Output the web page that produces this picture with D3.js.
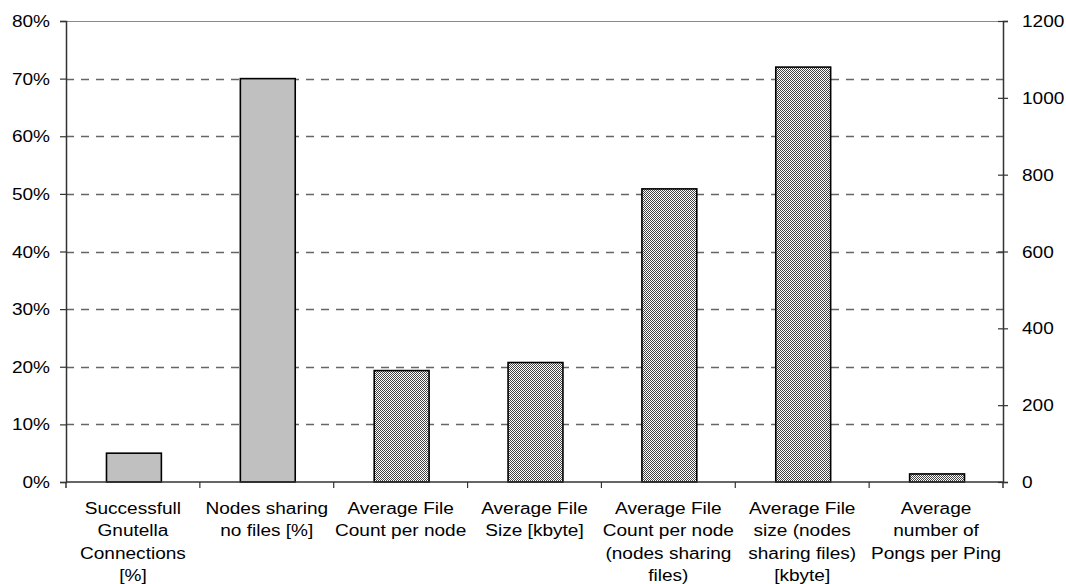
<!DOCTYPE html>
<html>
<head>
<meta charset="utf-8">
<script src="https://cdn.jsdelivr.net/npm/d3@7/dist/d3.min.js"></script>
<style>
  html, body { margin: 0; padding: 0; background: #fff; }
  svg { display: block; }
  text { font-family: "Liberation Sans", Arial, sans-serif; font-size: 16px; fill: #000; }
</style>
</head>
<body>
<svg id="chart" width="1066" height="584"></svg>
<script>
// Category labels, one array of lines per category
const categories = [
  ["Successfull", "Gnutella", "Connections", "[%]"],
  ["Nodes sharing", "no files [%]"],
  ["Average File", "Count per node"],
  ["Average File", "Size [kbyte]"],
  ["Average File", "Count per node", "(nodes sharing", "files)"],
  ["Average File", "size (nodes", "sharing files)", "[kbyte]"],
  ["Average", "number of", "Pongs per Ping"]
];
// Percentage measures (left axis)
const percentValues = [5, 70, null, null, null, null, null];
// Count / size measures (right axis)
const countValues = [null, null, 290, 311, 763, 1080, 21];

const leftTicks = [0, 10, 20, 30, 40, 50, 60, 70, 80];
const rightTicks = [0, 200, 400, 600, 800, 1000, 1200];

const svg = d3.select("#chart");
const x0 = 66, x1 = 1003, yTop = 21, yBot = 482;
const XS = 1.19; // horizontal stretch of the lettering

const x = d3.scaleBand().domain(d3.range(categories.length)).range([x0, x1]).padding(0);
const yL = d3.scaleLinear().domain([0, 80]).range([yBot, yTop]);
const yR = d3.scaleLinear().domain([0, 1200]).range([yBot, yTop]);

// Checker fill for the count bars
const defs = svg.append("defs");
const pat = defs.append("pattern").attr("id", "checker")
  .attr("width", 2).attr("height", 2).attr("patternUnits", "userSpaceOnUse");
pat.append("rect").attr("width", 2).attr("height", 2).attr("fill", "#ffffff");
pat.append("rect").attr("x", 0).attr("y", 0).attr("width", 1).attr("height", 1).attr("fill", "#444");
pat.append("rect").attr("x", 1).attr("y", 1).attr("width", 1).attr("height", 1).attr("fill", "#444");

// Dashed gridlines on the percentage ticks
svg.append("g").selectAll("line")
  .data(leftTicks.filter(d => d > 0 && d < 80))
  .join("line")
  .attr("x1", x0).attr("x2", x1)
  .attr("y1", d => Math.round(yL(d)) + 0.5).attr("y2", d => Math.round(yL(d)) + 0.5)
  .attr("stroke", "#666").attr("stroke-width", 1.3)
  .attr("stroke-dasharray", "8,7");

// Top border
svg.append("line")
  .attr("x1", x0).attr("x2", x1).attr("y1", yTop + 0.5).attr("y2", yTop + 0.5)
  .attr("stroke", "#8a8a8a").attr("stroke-width", 1.2);

const barW = x.bandwidth() * 0.41;
const bars = svg.append("g");

// Percentage bars
bars.selectAll("rect.pct")
  .data(percentValues.map((v, i) => ({ v, i })).filter(d => d.v != null))
  .join("rect").attr("class", "pct")
  .attr("x", d => x(d.i) + (x.bandwidth() - barW) / 2 + 1)
  .attr("width", barW)
  .attr("y", d => yL(d.v))
  .attr("height", d => yBot - yL(d.v))
  .attr("fill", "#c0c0c0").attr("stroke", "#000").attr("stroke-width", 1.6);

// Count bars
bars.selectAll("rect.cnt")
  .data(countValues.map((v, i) => ({ v, i })).filter(d => d.v != null))
  .join("rect").attr("class", "cnt")
  .attr("x", d => x(d.i) + (x.bandwidth() - barW) / 2 + 1)
  .attr("width", barW)
  .attr("y", d => yR(d.v))
  .attr("height", d => yBot - yR(d.v))
  .attr("fill", "url(#checker)").attr("stroke", "#000").attr("stroke-width", 1.6);

// Left axis
const gL = svg.append("g").attr("transform", `translate(${x0},0)`)
  .call(d3.axisLeft(yL).tickValues(leftTicks).tickSizeOuter(0).tickSize(6).tickFormat(() => ""));
gL.select(".domain").attr("stroke", "#333").attr("stroke-width", 1.5);
gL.selectAll(".tick line").attr("stroke", "#333").attr("stroke-width", 1.2);
gL.selectAll(".tick").append("g")
  .attr("transform", "translate(-16,5.5) scale(" + XS + ",1)")
  .append("text").attr("text-anchor", "end").attr("x", 0).attr("y", 0)
  .text(d => d + "%");

// Right axis with ticks crossing the line
const gR = svg.append("g").attr("transform", `translate(${x1},0)`)
  .call(d3.axisRight(yR).tickValues(rightTicks).tickSizeOuter(0).tickSize(5).tickFormat(() => ""));
gR.select(".domain").attr("stroke", "#333").attr("stroke-width", 1.5);
gR.selectAll(".tick line").attr("x1", -5).attr("stroke", "#333").attr("stroke-width", 1.2);
gR.selectAll(".tick").append("g")
  .attr("transform", "translate(19,5.5) scale(" + XS + ",1)")
  .append("text").attr("text-anchor", "start").attr("x", 0).attr("y", 0)
  .text(d => d);

// Axis extensions below the baseline
svg.append("line").attr("x1", x0).attr("x2", x0).attr("y1", yBot).attr("y2", yBot + 6)
  .attr("stroke", "#333").attr("stroke-width", 1.5);
svg.append("line").attr("x1", x1).attr("x2", x1).attr("y1", yBot).attr("y2", yBot + 6)
  .attr("stroke", "#333").attr("stroke-width", 1.5);

// Bottom axis with ticks at category boundaries
const gB = svg.append("g");
gB.append("line").attr("x1", x0).attr("x2", x1).attr("y1", yBot).attr("y2", yBot)
  .attr("stroke", "#333").attr("stroke-width", 1.5);
gB.selectAll("line.sep")
  .data(d3.range(1, categories.length))
  .join("line").attr("class", "sep")
  .attr("x1", d => x(d)).attr("x2", d => x(d))
  .attr("y1", yBot).attr("y2", yBot + 6)
  .attr("stroke", "#333").attr("stroke-width", 1.2);

// Category labels
const labels = svg.append("g").selectAll("g")
  .data(categories)
  .join("g")
  .attr("transform", (d, i) => `translate(${x(i) + x.bandwidth() / 2},514) scale(${XS},1)`);
labels.selectAll("text")
  .data(d => d)
  .join("text")
  .attr("text-anchor", "middle")
  .attr("y", (d, j) => j * 22.5)
  .text(d => d);
</script>
</body>
</html>
